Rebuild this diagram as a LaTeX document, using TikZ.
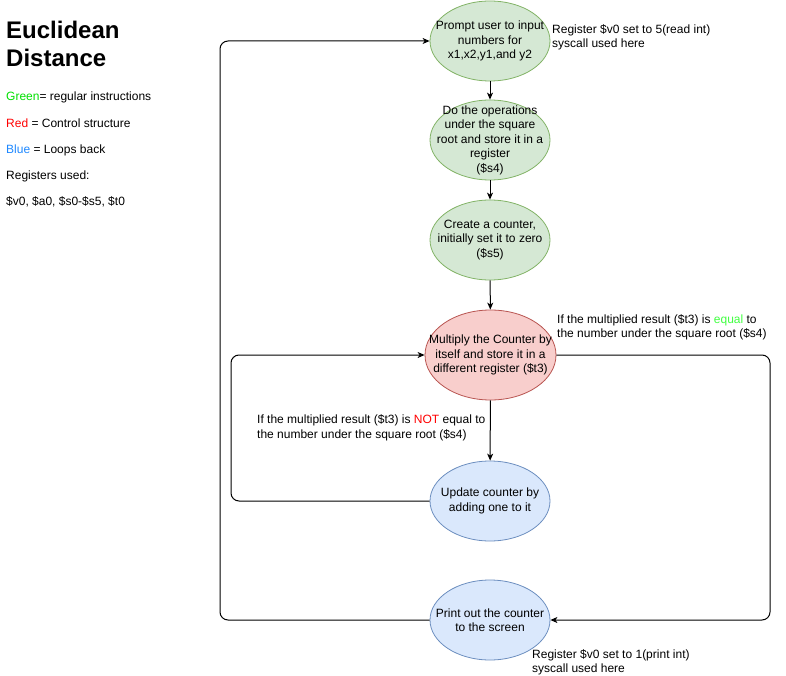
\documentclass[tikz,border=0pt]{standalone}
\usepackage{fontspec}
\setmainfont{Liberation Sans}
\usetikzlibrary{shapes.geometric,arrows.meta}
\definecolor{gfill}{HTML}{D5E8D4}
\definecolor{gline}{HTML}{82B366}
\definecolor{rfill}{HTML}{F8CECC}
\definecolor{rline}{HTML}{B85450}
\definecolor{bfill}{HTML}{DAE8FC}
\definecolor{bline}{HTML}{6C8EBF}
\definecolor{lgreen}{HTML}{00E000}
\definecolor{lred}{HTML}{FF0000}
\definecolor{lblue}{HTML}{1E88FF}
\definecolor{eqgreen}{HTML}{40FF40}
\begin{document}
\begin{tikzpicture}[x=1pt,y=-1pt,
  every node/.style={font=\fontsize{12}{14.5}\selectfont},
  stepnode/.style={ellipse,draw,line width=0.8pt,minimum width=120pt,minimum height=80pt,inner sep=0pt},
  greennode/.style={stepnode,fill=gfill,draw=gline},
  rednode/.style={stepnode,fill=rfill,draw=rline,minimum width=131pt,minimum height=90pt},
  bluenode/.style={stepnode,fill=bfill,draw=bline},
  intext/.style={label={[align=center,inner sep=0pt]center:#1}},
  flow/.style={line width=1pt,-{Stealth[length=7pt,width=6pt,inset=2pt]}},
  loopline/.style={flow,rounded corners=8pt},
  note/.style={anchor=west,align=left,inner sep=0pt},
  legend/.style={anchor=west,inner sep=0pt}]
\useasboundingbox (0,0) rectangle (786,676);
% nodes
\node[greennode,intext={Prompt user to input\\numbers for\\x1,x2,y1,and y2}] (e1) at (490,41) {};
\node[greennode,intext={Do the operations\\under the square\\root and store it in a\\register\\(\$s4)}] (e2) at (490,140) {};
\node[greennode,intext={Create a counter,\\initially set it to zero\\(\$s5)}] (e3) at (490,240) {};
\node[rednode,intext={Multiply the Counter by\\itself and store it in a\\different register (\$t3)}] (e4) at (490.5,355) {};
\node[bluenode,intext={Update counter by\\adding one to it}] (e5) at (490,501) {};
\node[bluenode,intext={Print out the counter\\to the screen}] (e6) at (490,620) {};
% loop coordinates
\coordinate (L1) at (220,0);
\coordinate (L2) at (231,0);
\coordinate (R1) at (770,0);
% connectors
\draw[flow] (e1) -- (e2);
\draw[flow] (e2) -- (e3);
\draw[flow] (e3) -- (e4);
\draw[flow] (e4) -- (e5);
\draw[loopline] (e5.west) -- (e5.west -| L2) -- (e4.west -| L2) -- (e4.west);
\draw[loopline] (e4.east) -- (e4.east -| R1) -- (e6.east -| R1) -- (e6.east);
\draw[loopline] (e6.west) -- (e6.west -| L1) -- (e1.west -| L1) -- (e1.west);
% notes
\node[note] (n1) at (552,37.5) {Register \$v0 set to 5(read int)\\syscall used here};
\node[note] (n2) at (557,327.5) {If the multiplied result (\$t3) is \textcolor{eqgreen}{equal} to\\the number under the square root (\$s4)};
\node[note] (n3) at (257,428) {If the multiplied result (\$t3) is \textcolor{lred}{NOT} equal to\\the number under the square root (\$s4)};
\node[note] (n4) at (532,662.5) {Register \$v0 set to 1(print int)\\syscall used here};
% title and legend
\node[legend,font=\fontsize{24}{28}\selectfont\bfseries,align=left] (title) at (6,44) {Euclidean\\Distance};
\node[legend] (g1) at (6,97) {\textcolor{lgreen}{Green}= regular instructions};
\node[legend] (g2) at (6,123) {\textcolor{lred}{Red} = Control structure};
\node[legend] (g3) at (6,150) {\textcolor{lblue}{Blue} = Loops back};
\node[legend] (g4) at (6,176) {Registers used:};
\node[legend] (g5) at (6,202) {\$v0, \$a0, \$s0-\$s5, \$t0};
\end{tikzpicture}
\end{document}
